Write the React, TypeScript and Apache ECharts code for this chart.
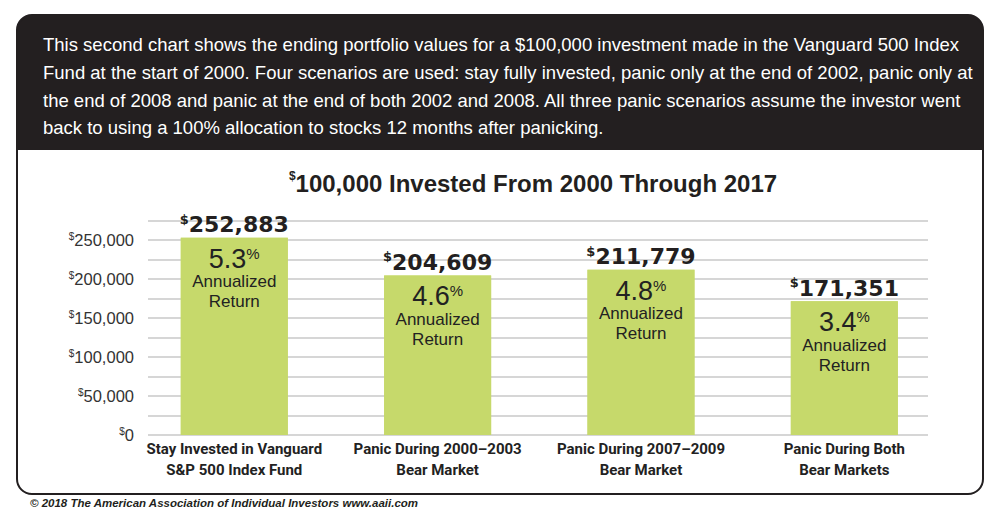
import React, { useEffect, useRef } from "react";
import * as echarts from "echarts";

// scenario names, ending values and returns
const categories = [
  "Stay Invested in Vanguard\nS&P 500 Index Fund",
  "Panic During 2000–2003\nBear Market",
  "Panic During 2007–2009\nBear Market",
  "Panic During Both\nBear Markets",
];
const endingValues = [252883, 204609, 211779, 171351];
const annualizedReturns = ["5.3", "4.6", "4.8", "3.4"];

const yMax = 275000;
const yStep = 25000;

const headerLines = [
  "This second chart shows the ending portfolio values for a $100,000 investment made in the Vanguard 500 Index",
  "Fund at the start of 2000. Four scenarios are used: stay fully invested, panic only at the end of 2002, panic only at",
  "the end of 2008 and panic at the end of both 2002 and 2008. All three panic scenarios assume the investor went",
  "back to using a 100% allocation to stocks 12 months after panicking.",
];
const chartTitle = "100,000 Invested From 2000 Through 2017";
const copyright = "© 2018 The American Association of Individual Investors www.aaii.com";

const SANS = "'Liberation Sans', Arial, sans-serif";
const NARROW = "Roboto, 'Liberation Sans', sans-serif";
const DARK = "#231f20";
const GREEN = "#c6d96b";

const App: React.FC = () => {
  const chartRef = useRef<HTMLDivElement>(null);

  useEffect(() => {
    const chart = echarts.init(chartRef.current!, null, { renderer: "svg" });

    chart.setOption({
      animation: false,
      backgroundColor: "#fff",
      graphic: [
        {
          type: "rect",
          shape: { x: 17, y: 15, width: 966, height: 135, r: [15, 15, 0, 0] },
          style: { fill: DARK },
        },
        {
          type: "rect",
          shape: { x: 17, y: 15, width: 966, height: 479, r: 15 },
          style: { fill: "none", stroke: DARK, lineWidth: 2 },
          z: 10,
        },
        {
          type: "text",
          x: 43,
          y: 31,
          style: {
            text: headerLines.join("\n"),
            fill: "#fff",
            font: `18.5px ${SANS}`,
            lineHeight: 27.7,
            verticalAlign: "top",
          },
        },
        {
          type: "text",
          x: 533,
          y: 183,
          style: {
            text: `{s|$}{t|${chartTitle}}`,
            align: "center",
            verticalAlign: "middle",
            rich: {
              s: { fontSize: 12, fontWeight: "bold", fontFamily: SANS, fill: DARK, lineHeight: 12, verticalAlign: "top" },
              t: { fontSize: 24, fontWeight: "bold", fontFamily: SANS, fill: DARK, lineHeight: 27 },
            },
          },
        },
        {
          type: "text",
          x: 30,
          y: 503,
          style: {
            text: copyright,
            fill: DARK,
            font: `italic bold 11.5px ${SANS}`,
            verticalAlign: "middle",
          },
        },
      ],
      grid: [
        { left: 148, right: 72, top: 220.5, bottom: 77 },
        { left: 132.6, right: 54, top: 220.5, bottom: 77 },
      ],
      xAxis: [
        { gridIndex: 0, type: "category", data: categories, show: false },
        {
          gridIndex: 1,
          type: "category",
          data: categories,
          axisLine: { show: false },
          axisTick: { show: false },
          axisLabel: {
            interval: 0,
            margin: 3.5,
            color: "#222",
            fontFamily: NARROW,
            fontWeight: "bold",
            fontSize: 15,
            lineHeight: 21,
          },
        },
      ],
      yAxis: [
        {
          gridIndex: 0,
          type: "value",
          min: 0,
          max: yMax,
          interval: yStep,
          axisLine: { show: false },
          axisTick: { show: false },
          splitLine: { lineStyle: { color: "#c9c9c9", width: 1.5 } },
          axisLabel: {
            margin: 14,
            formatter: (v: number) =>
              v % 50000 === 0 ? `{s|$}{n|${v.toLocaleString("en-US")}}` : "",
            rich: {
              s: { fontSize: 10, fontFamily: SANS, color: "#333", lineHeight: 12, verticalAlign: "top" },
              n: { fontSize: 16.5, fontFamily: SANS, color: "#333", lineHeight: 18 },
            },
          },
        },
        { gridIndex: 1, type: "value", min: 0, max: yMax, interval: yStep, show: false, splitLine: { show: false } },
      ],
      series: [
        {
          type: "bar",
          xAxisIndex: 1,
          yAxisIndex: 1,
          data: endingValues,
          barWidth: 107,
          itemStyle: { color: GREEN },
          label: {
            show: true,
            position: "top",
            distance: 1,
            formatter: (p: any) => `{s|$}{v|${p.value.toLocaleString("en-US")}}`,
            rich: {
              s: { fontSize: 13, fontWeight: "bold", fontFamily: "'DejaVu Sans', sans-serif", color: DARK, lineHeight: 13, verticalAlign: "top" },
              v: { fontSize: 22, fontWeight: "bold", fontFamily: "'DejaVu Sans', sans-serif", color: DARK, lineHeight: 24 },
            },
          },
        },
        {
          type: "bar",
          xAxisIndex: 1,
          yAxisIndex: 1,
          data: endingValues,
          barWidth: 107,
          barGap: "-100%",
          itemStyle: { color: GREEN },
          label: {
            show: true,
            position: "insideTop",
            distance: 8,
            formatter: (p: any) =>
              `{p|${annualizedReturns[p.dataIndex]}}{q|%}\n{t|Annualized}\n{t|Return}`,
            rich: {
              p: { fontSize: 27, fontFamily: SANS, color: "#222", lineHeight: 26 },
              q: { fontSize: 15, fontFamily: SANS, color: "#222", lineHeight: 16, verticalAlign: "top" },
              t: { fontSize: 17, fontFamily: SANS, color: "#222", lineHeight: 20 },
            },
          },
        },
      ],
    });

    return () => {
      chart.dispose();
    };
  }, []);

  return (
    <div
      ref={chartRef}
      style={{ position: "absolute", left: 0, top: 0, width: 1000, height: 512 }}
    />
  );
};

export default App;
